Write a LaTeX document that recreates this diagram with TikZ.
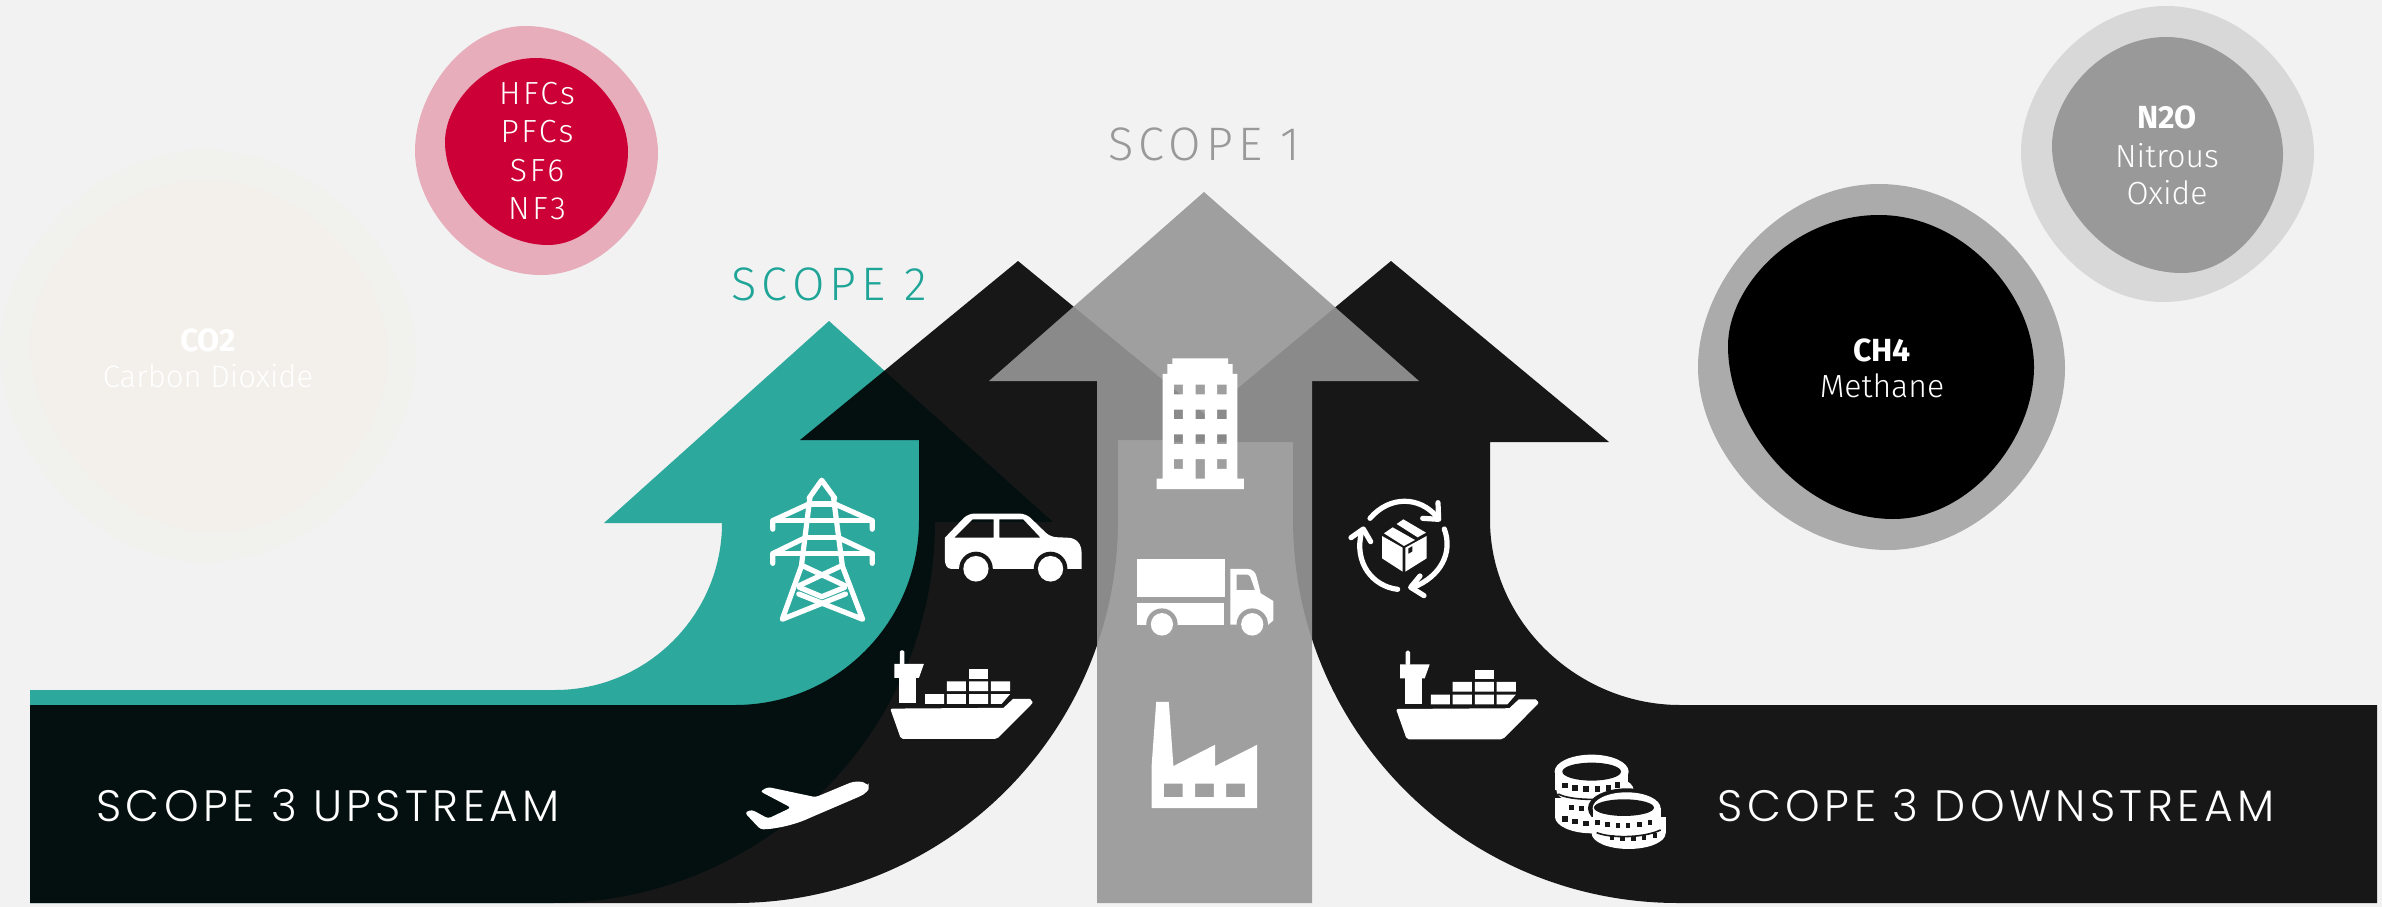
\documentclass[tikz,border=0pt]{standalone}
\usepackage{fontspec}
\setmainfont{Fira Sans}
\newfontfamily\gasfont{Fira Sans Light}
\newfontfamily\gaswide{Fira Sans Light}[LetterSpace=8]
\newfontfamily\gasbold{Fira Sans}
\newfontfamily\scopefont{Fira Sans Light}[LetterSpace=11]
\newfontfamily\bandfont{Poppins Light}[LetterSpace=10]
\definecolor{bgc}{HTML}{F2F2F2}
\definecolor{tealc}{HTML}{2CA89D}
\definecolor{tealt}{HTML}{1FA598}
\definecolor{greyt}{HTML}{999999}
\definecolor{greyarrow}{HTML}{979797}
\definecolor{bandc}{HTML}{171717}
\definecolor{lightg}{HTML}{A0A0A0}
\definecolor{cotwoa}{HTML}{F1F1EE}
\definecolor{cotwob}{HTML}{F3F0EB}
\definecolor{pinka}{HTML}{E7ADBB}
\definecolor{reda}{HTML}{CC0036}
\definecolor{ngreya}{HTML}{D8D8D8}
\definecolor{ngreyb}{HTML}{999999}
\definecolor{mgreya}{HTML}{ABABAB}
\newcommand{\blobshape}[9]{\fill[#1] (#2,#3)
 .. controls ({#2+.55*(#4-#2)},#3) and (#4,{#5-.47*(#5-#3)}) .. (#4,#5)
 .. controls (#4,{#5+.47*(#7-#5)}) and ({#6+.55*(#4-#6)},#7) .. (#6,#7)
 .. controls ({#6-.55*(#6-#8)},#7) and (#8,{#9+.47*(#7-#9)}) .. (#8,#9)
 .. controls (#8,{#9-.47*(#9-#3)}) and ({#2-.55*(#2-#8)},#3) .. cycle;}
\newcommand{\shipicon}[1]{%
 \fill[iconfill,even odd rule] (497,1052) -- (793,1050) -- (818,1027) -- (862,1027) [rounded corners=2pt] -- (871,1036) -- (776,1130) -- (525,1130) -- cycle;
 \fill[iconfill] (520,970) rectangle (565,1038);
 \fill[iconfill] (508,937) -- (585,937) -- (572,973) -- (508,973) -- cycle;
 \fill[iconfill,rounded corners=1.5pt] (522,902) rectangle (534,940);
 \fill[iconfill] (588,1015) rectangle (638,1040) (645,1015) rectangle (695,1040) (703,1015) rectangle (753,1040);
 \fill[iconfill] (760,1015) -- (810,1015) -- (788,1040) -- (760,1040) -- cycle;
 \fill[iconfill] (645,982) rectangle (695,1007) (703,982) rectangle (753,1007) (760,982) rectangle (810,1007);
 \fill[iconfill] (703,951) rectangle (753,975);
}
\begin{document}
\begin{tikzpicture}[x=1pt,y=-1pt,
 iconfill/.style={fill=white,draw=none},
 iconline/.style={draw=white,line width=5.2pt,line cap=round,line join=round},
 gaslabel/.style={text=white,font=\gasfont\fontsize{32}{32}\selectfont,inner sep=0pt,anchor=center},
 capslabel/.style={text=white,font=\gaswide\fontsize{32}{32}\selectfont,inner sep=0pt,anchor=center},
 gasname/.style={text=white,font=\gasbold\bfseries\fontsize{32}{32}\selectfont,inner sep=0pt,anchor=center},
 scopelabel/.style={font=\scopefont\fontsize{47}{47}\selectfont,inner sep=0pt,anchor=center},
 bandlabel/.style={text=white,font=\bandfont\fontsize{44}{44}\selectfont,inner sep=0pt,anchor=center}]
\useasboundingbox (0,0) rectangle (2382,907);
\fill[bgc] (0,0) rectangle (2382,907);
% blobs
\blobshape{cotwoa}{205}{150}{416}{355}{205}{562}{0}{350}
\blobshape{cotwob}{205}{180}{388}{355}{215}{532}{30}{345}
\blobshape{pinka}{525}{26}{658}{153}{541}{275}{415}{151}
\blobshape{reda}{536}{58}{628}{152}{548}{245}{445}{142}
\blobshape{ngreya}{2166}{6}{2314}{153}{2163}{302}{2021}{152}
\blobshape{ngreyb}{2166}{37}{2283}{154}{2182}{273}{2052}{146}
\blobshape{mgreya}{1879}{184}{2065}{368}{1888}{550}{1698}{367}
\blobshape{black}{1879}{215}{2034}{367}{1893}{519}{1728}{346}
% gas labels
\node[gasname,text=white] (co2) at (208,340) {CO2};
\node[gaslabel,font=\gasfont\fontsize{31}{31}\selectfont] (co2b) at (208,376) {Carbon Dioxide};
\node[capslabel] (hfc) at (537,94) {HFCs};
\node[capslabel] (pfc) at (537,132) {PFCs};
\node[capslabel] (sf6) at (537,171) {SF6};
\node[capslabel] (nf3) at (537,209) {NF3};
\node[gasname] (ch4) at (1882,350) {CH4};
\node[gaslabel] (ch4b) at (1882,386) {Methane};
\node[gasname] (n2o) at (2167,117) {N2O};
\node[gaslabel] (n2ob) at (2167,156) {Nitrous};
\node[gaslabel] (n2oc) at (2167,193) {Oxide};
% scope labels
\node[scopelabel,text=greyt] (s1) at (1204,144) {SCOPE 1};
\node[scopelabel,text=tealt] (s2) at (829,284) {SCOPE 2};
% teal arrow
\fill[tealc] (829,321) -- (1053,522) -- (935,522)
  .. controls (935,733) and (763,903) .. (552,903)
  -- (30,903) -- (30,690) -- (555,690)
  .. controls (647,690) and (722,615) .. (722,523)
  -- (604,523) -- cycle;
% black left arrow
\fill[black,fill opacity=.9] (1018,261) -- (1236,440) -- (1118,440) -- (1118,520)
  .. controls (1118,731.5) and (946.5,903) .. (735,903)
  -- (30,903) -- (30,705) -- (735,705)
  .. controls (837,705) and (919,622) .. (919,520)
  -- (919,440) -- (800,440) -- cycle;
% black right arrow
\fill[black,fill opacity=.9] (1391,261) -- (1609,442) -- (1490,442) -- (1490,520)
  .. controls (1490,622) and (1578,705) .. (1680,705)
  -- (2377,705) -- (2377,903) -- (1678,903)
  .. controls (1465,903) and (1293,731.5) .. (1293,520)
  -- (1293,442) -- (1173,442) -- cycle;
% grey arrow
\fill[greyarrow,fill opacity=.9] (1204,192) -- (1419,381) -- (1312,381) -- (1312,903)
  -- (1097,903) -- (1097,381) -- (989,381) -- cycle;
% band labels
\node[bandlabel] (up) at (328,806) {SCOPE 3 UPSTREAM};
\node[bandlabel] (down) at (1996,806) {SCOPE 3 DOWNSTREAM};
% icons in zoom coordinates
\begin{scope}[shift={(700,300)},x=0.3827pt,y=-0.3884pt]
 % pylon
 \draw[iconline] (285,510) -- (318,464) -- (352,510);
 \draw[iconline] (287,510) -- (265,685) -- (215,822) -- (380,757);
 \draw[iconline] (349,510) -- (372,685) -- (425,822) -- (258,757);
 \draw[iconline] (287,525) -- (352,525);
 \draw[iconline] (190,590) -- (190,568) -- (285,525);
 \draw[iconline] (450,590) -- (450,568) -- (352,525);
 \draw[iconline] (190,568) -- (450,568);
 \draw[iconline] (275,612) -- (362,612);
 \draw[iconline] (190,678) -- (190,653) -- (275,612);
 \draw[iconline] (450,678) -- (450,653) -- (362,612);
 \draw[iconline] (190,653) -- (450,653);
 \draw[iconline] (270,685) -- (378,735);
 \draw[iconline] (368,685) -- (260,735);
 \draw[iconline] (260,740) -- (318,764);
 \draw[iconline] (378,740) -- (318,764);
 % car
 \fill[iconfill,even odd rule] (640,612) [rounded corners=6pt] -- (700,550) -- (852,550) -- (915,610) [sharp corners] -- (960,612)
   .. controls (985,612) and (997,630) .. (997,650) -- (997,692) -- (655,692)
   .. controls (645,692) and (640,680) .. (640,670) -- cycle
   (664,612) -- (712,565) -- (767,565) -- (767,612) -- cycle
   (782,565) -- (845,565) -- (890,612) -- (782,612) -- cycle;
 \fill[bandc] (721,692) circle[radius=44];
 \fill[bandc] (916,692) circle[radius=44];
 \fill[iconfill] (721,692) circle[radius=33];
 \fill[iconfill] (916,692) circle[radius=33];
 % truck
 \fill[iconfill] (1142,666) rectangle (1372,765);
 \fill[iconfill] (1142,780) rectangle (1370,836);
 \fill[iconfill,even odd rule] (1386,692) -- (1428,692) .. controls (1445,692) and (1452,702) .. (1455,715) -- (1465,755) -- (1498,775) -- (1498,825) -- (1485,836) -- (1386,836) -- cycle
   (1402,707) -- (1430,707) .. controls (1436,707) and (1438,712) .. (1440,718) -- (1450,747) -- (1402,747) -- cycle;
 \fill[lightg] (1207,835) circle[radius=41];
 \fill[lightg] (1443,835) circle[radius=41];
 \fill[iconfill] (1207,835) circle[radius=29];
 \fill[iconfill] (1443,835) circle[radius=29];
 % building
 \fill[iconfill,even odd rule] (1193,487) -- (1193,460) -- (1209,460) -- (1209,190) -- (1221,190) -- (1221,165) -- (1234,165) -- (1234,150) -- (1380,150) -- (1380,165) -- (1392,165) -- (1392,190) -- (1404,190) -- (1404,460) -- (1421,460) -- (1421,487) -- cycle
   (1238,218) rectangle (1262,243) (1295,218) rectangle (1319,243) (1351,218) rectangle (1376,243)
   (1238,282) rectangle (1262,307) (1295,282) rectangle (1319,307) (1351,282) rectangle (1376,307)
   (1238,346) rectangle (1262,371) (1295,346) rectangle (1319,371) (1351,346) rectangle (1376,371)
   (1238,410) rectangle (1262,435) (1295,410) rectangle (1319,460) (1351,410) rectangle (1376,435);
 % factory
 \fill[iconfill,even odd rule] (1180,1308) -- (1180,1200) -- (1192,1035) -- (1225,1035) -- (1237,1200) -- (1346,1145) -- (1346,1200) -- (1456,1145) -- (1456,1308) -- cycle
   (1212,1245) rectangle (1261,1280) (1294,1245) rectangle (1343,1280) (1375,1245) rectangle (1424,1280);
 % plane
 \fill[iconfill,rounded corners=3pt] (441,1252) .. controls (425,1236) and (400,1240) .. (385,1246) -- (302,1280) -- (178,1254) -- (157,1265) -- (238,1307) -- (178,1335) -- (135,1312) -- (117,1320) -- (158,1363)
   .. controls (200,1362) and (250,1350) .. (290,1332) -- (420,1277) .. controls (432,1270) and (440,1262) .. cycle;
 % left ship
 \shipicon{}
\end{scope}
% right ship
\begin{scope}[shift={(1205.8,300.4)},x=0.3827pt,y=-0.3884pt]
 \shipicon{}
\end{scope}
% recycle icon and coins, zoom 3 coordinates
\begin{scope}[shift={(1250,450)},x=0.3333pt,y=-0.3333pt]
 \draw[iconline] (360,205) .. controls (420,135) and (510,140) .. (560,200);
 \draw[iconline] (564,158) -- (566,208) -- (518,205);
 \draw[iconline] (583,237) .. controls (610,310) and (570,380) .. (490,412);
 \draw[iconline] (522,437) -- (482,412) -- (510,378);
 \draw[iconline] (443,418) .. controls (370,410) and (310,340) .. (335,245);
 \draw[iconline] (303,263) -- (340,237) -- (362,275);
 \fill[iconfill] (396,258) -- (458,293) -- (458,365) -- (396,325) -- cycle;
 \fill[iconfill,even odd rule] (466,293) -- (530,258) -- (530,325) -- (466,365) -- cycle (475,295) -- (487,288) -- (487,305) -- (475,312) -- cycle;
 \fill[iconfill] (402,250) -- (428,232) -- (495,270) -- (462,288) -- cycle;
 \fill[iconfill] (440,222) -- (460,208) -- (528,248) -- (503,262) -- cycle;
 % coins, left stack
 \fill[iconfill] (1025,965) ellipse[x radius=111,y radius=51];
 \fill[iconfill] (915,965) rectangle (1135,1020);
 \fill[iconfill] (1035,1020) ellipse[x radius=116,y radius=48];
 \fill[iconfill] (1025,1100) ellipse[x radius=110,y radius=50];
 \fill[iconfill] (915,1045) rectangle (1135,1100);
 \fill[bandc] (1025,965) ellipse[x radius=88,y radius=27];
 \draw[bandc,line width=1.6pt] (925,1032) .. controls (960,1052) and (1060,1052) .. (1110,1040);
 \foreach \px/\py in {945/1007,975/1014,1008/1017,1042/1017,1075/1014,1103/1005,
   965/1072,995/1075,945/1107,975/1115,1008/1120}
   {\fill[bandc] (\px-8,\py-8) rectangle (\px+8,\py+8);}
 % coins, right stack
 \fill[bandc] (1130,1075) ellipse[x radius=116,y radius=60];
 \fill[iconfill] (1130,1075) ellipse[x radius=102,y radius=48];
 \fill[iconfill] (1028,1075) rectangle (1232,1120);
 \fill[iconfill] (1136,1150) ellipse[x radius=111,y radius=47];
 \fill[iconfill] (1026,1100) rectangle (1247,1150);
 \fill[bandc] (1122,1073) ellipse[x radius=90,y radius=25];
 \draw[bandc,line width=1.6pt] (1040,1148) .. controls (1080,1165) and (1180,1165) .. (1232,1140);
 \foreach \px/\py in {1042/1118,1072/1123,1104/1127,1134/1127,1168/1124,1200/1118,
   1086/1163,1118/1166,1150/1166,1182/1163,1215/1157}
   {\fill[bandc] (\px-7,\py-7) rectangle (\px+7,\py+7);}
\end{scope}
\end{tikzpicture}
\end{document}
